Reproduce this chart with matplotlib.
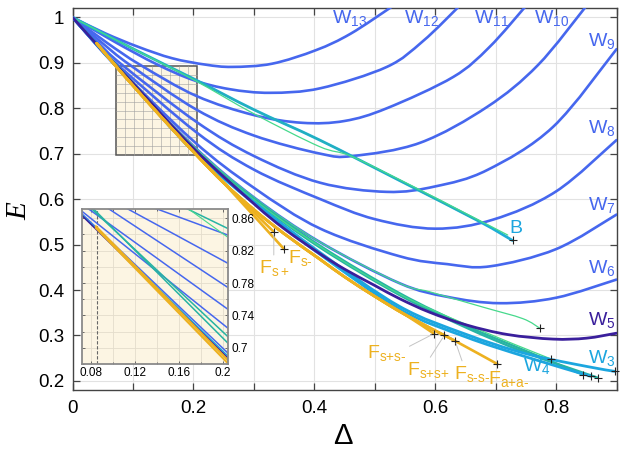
import numpy as np
import matplotlib
matplotlib.use('Agg')
import matplotlib.pyplot as plt
from matplotlib.patches import Rectangle, PathPatch
from matplotlib.path import Path
from matplotlib.ticker import MultipleLocator, FuncFormatter

plt.rcParams['font.family'] = ['Liberation Sans', 'DejaVu Sans']
plt.rcParams['mathtext.fontset'] = 'custom'
plt.rcParams['mathtext.rm'] = 'Liberation Sans'
plt.rcParams['mathtext.it'] = 'Liberation Sans:italic'

# ---------------- data (Delta, E) ----------------
W13_x = [0, 0.054, 0.109, 0.165, 0.22, 0.264, 0.33, 0.403, 0.46, 0.53]
W13_y = [1, 0.965, 0.935, 0.910, 0.896, 0.891, 0.898, 0.928, 0.964, 1.025]
W12_x = [0, 0.07, 0.139, 0.2, 0.26, 0.327, 0.41, 0.52, 0.58, 0.64]
W12_y = [1, 0.946, 0.897, 0.862, 0.842, 0.834, 0.844, 0.891, 0.948, 1.025]
W11_x = [0, 0.056, 0.1126, 0.205, 0.3, 0.38, 0.45, 0.52, 0.63, 0.69, 0.75]
W11_y = [1, 0.945, 0.895, 0.827, 0.785, 0.768, 0.772, 0.80, 0.869, 0.935, 1.025]
W10_x = [0, 0.048, 0.0953, 0.205, 0.3, 0.41, 0.464, 0.575, 0.686, 0.77, 0.85]
W10_y = [1, 0.945, 0.895, 0.797, 0.74, 0.70, 0.695, 0.724, 0.803, 0.895, 1.025]
W9_x = [0, 0.041, 0.0825, 0.205, 0.3, 0.41, 0.52, 0.6, 0.686, 0.795, 0.9]
W9_y = [1, 0.946, 0.895, 0.77, 0.695, 0.636, 0.616, 0.628, 0.664, 0.759, 0.93]
W8_x = [0, 0.0375, 0.075, 0.205, 0.3, 0.41, 0.5, 0.6, 0.696, 0.8, 0.9]
W8_y = [1, 0.945, 0.895, 0.747, 0.665, 0.600, 0.556, 0.535, 0.555, 0.617, 0.73]
W7_x = [0, 0.07, 0.2, 0.3, 0.41, 0.542, 0.62, 0.69, 0.8, 0.9]
W7_y = [1, 0.897, 0.728, 0.625, 0.535, 0.474, 0.457, 0.452, 0.49, 0.566]
W6_x = [0, 0.07, 0.2, 0.3, 0.41, 0.541, 0.62, 0.707, 0.8, 0.9]
W6_y = [1, 0.895, 0.717, 0.604, 0.505, 0.415, 0.385, 0.371, 0.383, 0.423]
W5_x = [0, 0.05, 0.1, 0.2, 0.3, 0.35, 0.409, 0.45, 0.5, 0.541, 0.591, 0.652, 0.72, 0.795, 0.85, 0.9]
W5_y = [1, 0.926, 0.855, 0.712, 0.59, 0.535, 0.48, 0.446, 0.41, 0.381, 0.351, 0.323, 0.302, 0.292, 0.294, 0.305]
W4_x = [0, 0.1, 0.2, 0.3, 0.41, 0.541, 0.65, 0.75, 0.858]
W4_y = [1, 0.851, 0.705, 0.591, 0.478, 0.358, 0.297, 0.253, 0.210]
W3_x = [0, 0.1, 0.2, 0.3, 0.41, 0.541, 0.65, 0.75, 0.85, 0.897]
W3_y = [1, 0.852, 0.706, 0.594, 0.482, 0.364, 0.303, 0.26, 0.232, 0.221]
B_x = [0, 0.1, 0.2, 0.3, 0.409, 0.541, 0.673, 0.728]
B_y = [1, 0.931, 0.865, 0.797, 0.730, 0.641, 0.551, 0.509]
G1_x = [0, 0.1, 0.2, 0.3, 0.408, 0.46, 0.55, 0.65, 0.72]
G1_y = [1, 0.931, 0.863, 0.788, 0.716, 0.695, 0.637, 0.569, 0.521]
G2_tail_x = [0.591, 0.68, 0.745, 0.773]
G2_tail_y = [0.396, 0.362, 0.337, 0.316]
G3_x = [0, 0.1, 0.2, 0.3, 0.41, 0.541, 0.65, 0.792]
G3_y = [1, 0.855, 0.71, 0.599, 0.495, 0.391, 0.325, 0.248]
T1_x = [0, 0.1, 0.2, 0.3, 0.41, 0.541, 0.65, 0.75, 0.844]
T1_y = [1, 0.856, 0.711, 0.601, 0.497, 0.393, 0.322, 0.266, 0.214]
T2_x = [0, 0.1, 0.2, 0.3, 0.41, 0.541, 0.65, 0.75, 0.869]
T2_y = [1, 0.854, 0.709, 0.598, 0.493, 0.389, 0.318, 0.262, 0.207]
F_x = [0.04, 0.0716, 0.1, 0.15, 0.2066, 0.25, 0.3, 0.35, 0.409, 0.45, 0.5, 0.55]
F_y = [0.943, 0.893, 0.85, 0.776, 0.695, 0.636, 0.577, 0.524, 0.468, 0.429, 0.386, 0.346]
Faa_tail_x = [0.598, 0.633, 0.703]
Faa_tail_y = [0.312, 0.288, 0.237]
Fspm_tail_x = [0.598]; Fspm_tail_y = [0.304]
Fspp_tail_x = [0.615]; Fspp_tail_y = [0.300]
Fsmm_tail_x = [0.633]; Fsmm_tail_y = [0.288]
Fsp_tail_x = [0.333]; Fsp_tail_y = [0.528]
Fsm_tail_x = [0.35]; Fsm_tail_y = [0.49]

# inset lines (values as shown against the inset's own ticks)
in_x = [0.07, 0.205]
in_B = [0.936, 0.847]
in_W12 = [0.9065, 0.839]
in_G1 = [0.968, 0.836]
in_W11 = [0.9035, 0.804]
in_W10 = [0.895, 0.774]
in_W9 = [0.879, 0.747]
in_W8 = [0.8704, 0.7236]
in_T1 = [0.885, 0.713]
in_T2 = [0.888, 0.705]
in_W6 = [0.8675, 0.6927]
in_W3 = [0.8665, 0.689]
in_W5 = [0.8655, 0.6865]
in_F_x = [0.0843, 0.205]
in_F1 = [0.848, 0.680]
in_F2 = [0.850, 0.684]

# ---------------- styles ----------------
C_BLUE = '#4667ee'
C_PURPLE = '#3a1f9c'
C_CYAN = '#1ca6df'
C_TEAL = '#27b3a3'
C_GREEN = '#46d98c'
C_ORANGE = '#EDB120'
C_B = '#1eaed6'
CREAM = '#fcf5e3'


def smooth_line(ax, xs, ys, **kw):
    """Draw a smooth (Catmull-Rom / Bezier) line through the given points."""
    P = np.column_stack([xs, ys]).astype(float)
    n = len(P)
    verts = [P[0]]
    codes = [Path.MOVETO]
    for i in range(n - 1):
        p0 = P[i - 1] if i > 0 else P[i]
        p1 = P[i]
        p2 = P[i + 1]
        p3 = P[i + 2] if i + 2 < n else P[i + 1]
        verts += [p1 + (p2 - p0) / 6.0, p2 - (p3 - p1) / 6.0, p2]
        codes += [Path.CURVE4] * 3
    patch = PathPatch(Path(verts, codes), fill=False, capstyle='round',
                      joinstyle='round', **kw)
    ax.add_patch(patch)
    return patch


fig = plt.figure(figsize=(6.23, 4.53), dpi=100)
ax = fig.add_axes([0.1164, 0.1391, 0.8732, 0.8426])
ax.set_xlim(0, 0.9)
ax.set_ylim(0.18, 1.02)


def xfmt(v, p):
    k = v / 0.2
    if abs(k - round(k)) < 1e-6:
        return '%g' % round(v, 2)
    return ''


ax.xaxis.set_major_locator(MultipleLocator(0.1))
ax.xaxis.set_major_formatter(FuncFormatter(xfmt))
ax.yaxis.set_major_locator(MultipleLocator(0.1))
ax.yaxis.set_major_formatter(FuncFormatter(lambda v, p: '%g' % round(v, 2)))
ax.tick_params(direction='in', top=True, right=True, length=5, width=0.9,
               labelsize=13.5, color='#444444')
ax.tick_params(axis='x', pad=7)
ax.tick_params(axis='y', pad=6)
ax.grid(True, color='#e2e2e2', lw=0.8)
ax.set_axisbelow(True)
for s in ax.spines.values():
    s.set_color('#444444')
    s.set_linewidth(1.0)

# rectangle marking the inset region
rx0, ry0, rx1, ry1 = 0.0716, 0.697, 0.2066, 0.893
ax.add_patch(Rectangle((rx0, ry0), rx1 - rx0, ry1 - ry0, facecolor=CREAM,
                       edgecolor='#555555', lw=1.1, zorder=1))
for gx in np.linspace(rx0, rx1, 10)[1:-1]:
    ax.plot([gx, gx], [ry0, ry1], color='#a0a0a0', lw=0.4, zorder=1.1)
for gy in np.linspace(ry0, ry1, 11)[1:-1]:
    ax.plot([rx0, rx1], [gy, gy], color='#a0a0a0', lw=0.4, zorder=1.1)

LW = 1.9
for xs, ys in [(W13_x, W13_y), (W12_x, W12_y), (W11_x, W11_y), (W10_x, W10_y),
               (W9_x, W9_y), (W8_x, W8_y), (W7_x, W7_y), (W6_x, W6_y)]:
    smooth_line(ax, xs, ys, edgecolor=C_BLUE, lw=LW, zorder=3)

smooth_line(ax, B_x, B_y, edgecolor=C_B, lw=2.0, zorder=4)
smooth_line(ax, B_x[:-1], B_y[:-1], edgecolor=C_TEAL, lw=1.4, zorder=4, alpha=0.45)
smooth_line(ax, G1_x, G1_y, edgecolor=C_GREEN, lw=0.9, zorder=4)
G2_x = W6_x[:6] + G2_tail_x
G2_y = W6_y[:6] + G2_tail_y
smooth_line(ax, G2_x, G2_y, edgecolor=C_GREEN, lw=0.9, zorder=4)
smooth_line(ax, T1_x, T1_y, edgecolor=C_TEAL, lw=1.7, zorder=4)
smooth_line(ax, T2_x, T2_y, edgecolor=C_TEAL, lw=1.7, zorder=4)
smooth_line(ax, G3_x, G3_y, edgecolor=C_GREEN, lw=0.9, zorder=4)
smooth_line(ax, W3_x, W3_y, edgecolor=C_CYAN, lw=2.0, zorder=5)
smooth_line(ax, W4_x, W4_y, edgecolor=C_CYAN, lw=2.0, zorder=5)
smooth_line(ax, W5_x, W5_y, edgecolor=C_PURPLE, lw=2.0, zorder=5)

F_lines = []
F_lines.append((F_x + Faa_tail_x, F_y + Faa_tail_y))
F_lines.append((F_x + Fspm_tail_x, F_y + Fspm_tail_y))
F_lines.append((F_x + Fspp_tail_x, F_y + Fspp_tail_y))
F_lines.append((F_x + Fsmm_tail_x, F_y + Fsmm_tail_y))
F_lines.append((F_x[:6] + Fsp_tail_x, F_y[:6] + Fsp_tail_y))
F_lines.append((F_x[:6] + Fsm_tail_x, F_y[:6] + Fsm_tail_y))
for xs, ys in F_lines:
    smooth_line(ax, xs, ys, edgecolor=C_ORANGE, lw=1.9, zorder=6)

# end markers
ends = [(B_x, B_y), (G2_x, G2_y), (G3_x, G3_y), (T1_x, T1_y), (T2_x, T2_y),
        (W3_x, W3_y), (W4_x, W4_y)] + F_lines
for xs, ys in ends:
    ax.plot(xs[-1], ys[-1], '+', color='#222222', ms=6, mew=0.8, zorder=8,
            clip_on=False)


def sub(base, s):
    return base + r'$_{\mathregular{' + s + '}}$'


HY = '\u2010'
FS = 14
wl = [('13', 0.459, 0.998), ('12', 0.578, 0.998), ('11', 0.694, 0.998),
      ('10', 0.793, 0.998), ('9', 0.876, 0.948), ('8', 0.876, 0.757),
      ('7', 0.876, 0.587), ('6', 0.876, 0.449)]
for s, x, y in wl:
    ax.text(x, y, sub('W', s), color=C_BLUE, fontsize=FS, ha='center', va='center', zorder=9)
ax.text(0.876, 0.333, sub('W', '5'), color=C_PURPLE, fontsize=FS, ha='center', va='center', zorder=9)
ax.text(0.876, 0.250, sub('W', '3'), color=C_CYAN, fontsize=FS, ha='center', va='center', zorder=9)
ax.text(0.769, 0.232, sub('W', '4'), color=C_CYAN, fontsize=FS, ha='center', va='center', zorder=9)
ax.text(0.733, 0.535, 'B', color=C_CYAN, fontsize=FS, ha='center', va='center', zorder=9)

lead = dict(arrowstyle='-', color='#c4c4c4', lw=0.7, shrinkA=0, shrinkB=2)
ax.annotate(sub('F', 's+'), xy=(Fsp_tail_x[-1], Fsp_tail_y[-1]), xytext=(0.333, 0.449),
            color=C_ORANGE, fontsize=FS, ha='center', va='center', zorder=9,
            arrowprops=dict(lead, relpos=(0.5, 1.0)))
ax.text(0.377, 0.470, sub('F', 's' + HY), color=C_ORANGE, fontsize=FS, ha='center', va='center', zorder=9)
ax.annotate(sub('F', 's{+}s' + HY), xy=(Fspm_tail_x[-1], Fspm_tail_y[-1]), xytext=(0.52, 0.262),
            color=C_ORANGE, fontsize=FS, ha='center', va='center', zorder=9,
            arrowprops=dict(lead, relpos=(1.0, 0.75)))
ax.annotate(sub('F', 's{+}s{+}'), xy=(Fspp_tail_x[-1], Fspp_tail_y[-1]), xytext=(0.589, 0.224),
            color=C_ORANGE, fontsize=FS, ha='center', va='center', zorder=9,
            arrowprops=dict(lead, relpos=(0.5, 1.0)))
ax.annotate(sub('F', 's' + HY + 's' + HY), xy=(Fsmm_tail_x[-1], Fsmm_tail_y[-1]), xytext=(0.661, 0.216),
            color=C_ORANGE, fontsize=FS, ha='center', va='center', zorder=9,
            arrowprops=dict(lead, relpos=(0.25, 1.0)))
ax.text(0.722, 0.204, sub('F', 'a{+}a' + HY), color=C_ORANGE, fontsize=FS, ha='center', va='center', zorder=9)

fig.text(343 / 623, 1 - 436 / 453, '\u0394', fontsize=21, ha='center', va='center')
fig.text(19 / 623, 1 - 211 / 453, 'E', fontsize=21, ha='center', va='center',
         rotation=90, family='Liberation Serif', style='italic')

# ---------------- inset ----------------
axin = fig.add_axes([0.1311, 0.1958, 0.2353, 0.3435])
axin.set_facecolor(CREAM)
axin.set_xlim(0.0713, 0.2048)
axin.set_ylim(0.6795, 0.8719)
axin.set_xticks([0.08, 0.12, 0.16, 0.2])
axin.set_yticks([0.7, 0.74, 0.78, 0.82, 0.86])
axin.xaxis.set_minor_locator(MultipleLocator(0.02))
axin.yaxis.set_minor_locator(MultipleLocator(0.02))
fmt = FuncFormatter(lambda v, p: '%g' % round(v, 2))
axin.xaxis.set_major_formatter(fmt)
axin.yaxis.set_major_formatter(fmt)
axin.yaxis.tick_right()
axin.tick_params(which='both', direction='in', top=True, bottom=True, left=True, right=True,
                 labelsize=8.5, length=2.5, width=0.6, color='#555555', pad=2)
axin.tick_params(which='minor', length=1.5)
axin.grid(True, which='both', color='#e4ddcc', lw=0.6)
axin.set_axisbelow(True)
for s in axin.spines.values():
    s.set_color('#8a8a8a')
    s.set_linewidth(1.3)
axin.axvline(0.085, color='#666666', lw=0.8, ls=(0, (3, 1.5)), zorder=1)

ILW = 1.1
axin.plot(in_x, in_B, color=C_TEAL, lw=ILW)
axin.plot(in_x, in_W12, color=C_BLUE, lw=ILW)
axin.plot(in_x, in_G1, color=C_GREEN, lw=0.8)
axin.plot(in_x, in_W11, color=C_BLUE, lw=ILW)
axin.plot(in_x, in_W10, color=C_BLUE, lw=ILW)
axin.plot(in_x, in_W9, color=C_BLUE, lw=ILW)
axin.plot(in_x, in_W8, color=C_BLUE, lw=ILW)
axin.plot(in_x, in_T1, color=C_TEAL, lw=ILW)
axin.plot(in_x, in_T2, color=C_TEAL, lw=ILW)
axin.plot(in_x, in_W6, color=C_BLUE, lw=ILW)
axin.plot(in_x, in_W3, color=C_CYAN, lw=ILW)
axin.plot(in_x, in_W5, color=C_PURPLE, lw=ILW)
axin.plot(in_F_x, in_F1, color=C_ORANGE, lw=1.5)
axin.plot(in_F_x, in_F2, color=C_ORANGE, lw=1.5)

fig.savefig('out.png', dpi=100)
